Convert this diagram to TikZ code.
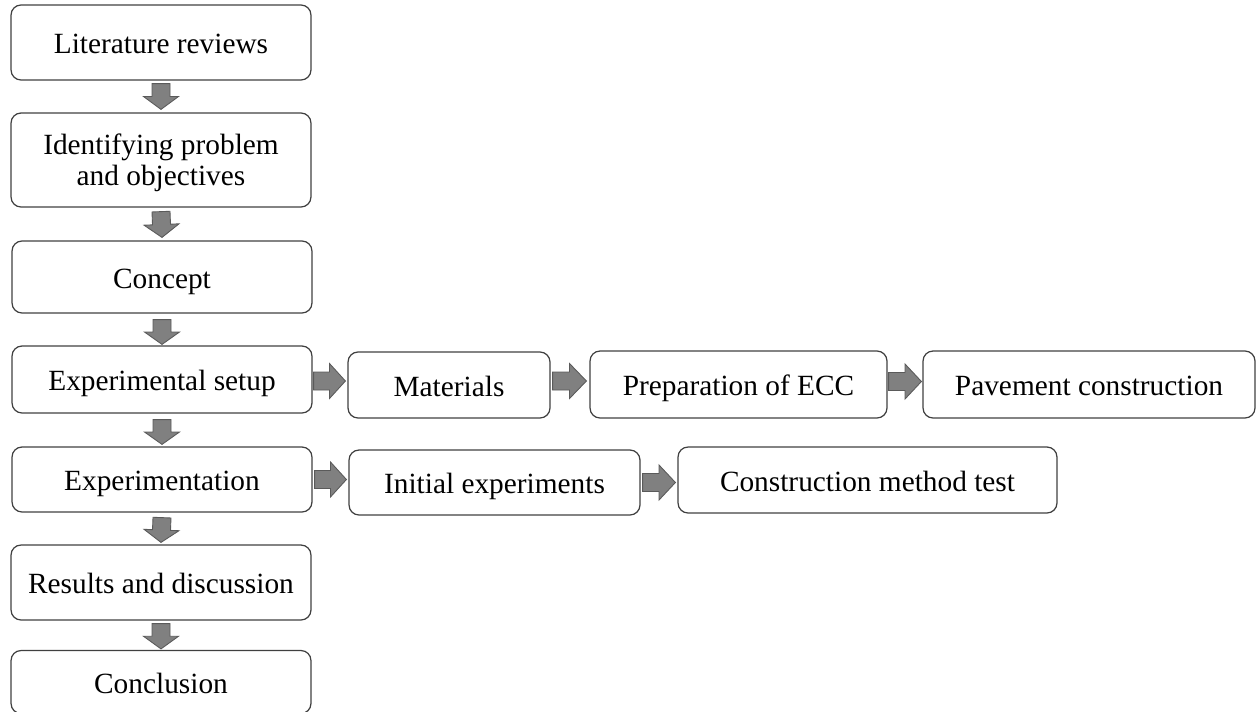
\documentclass[tikz,border=0pt]{standalone}
\usepackage{fontspec}
\setmainfont{Liberation Serif}
\usetikzlibrary{calc}
\definecolor{boxline}{HTML}{404040}
\definecolor{arrfill}{HTML}{808080}
\definecolor{arrline}{HTML}{5A5A5A}

\begin{document}
\begin{tikzpicture}[x=0.02cm, y=-0.02cm,
    stage/.style={draw=boxline, line width=0.7pt, rounded corners=0.2cm,
      align=center, inner sep=0pt, text height=13pt, text depth=0pt,
      font=\fontsize{16.7}{17.6}\selectfont},
    flow/.style={fill=arrfill, draw=arrline, line width=0.5pt,
      to path={($(\tikztostart)!0.18cm!90:(\tikztotarget)$)
        -- ($($(\tikztostart)!0.5!(\tikztotarget)$)!0.18cm!90:(\tikztotarget)$)
        -- ($($(\tikztostart)!0.5!(\tikztotarget)$)!0.35cm!90:(\tikztotarget)$)
        -- (\tikztotarget)
        -- ($($(\tikztostart)!0.5!(\tikztotarget)$)!0.35cm!-90:(\tikztotarget)$)
        -- ($($(\tikztostart)!0.5!(\tikztotarget)$)!0.18cm!-90:(\tikztotarget)$)
        -- ($(\tikztostart)!0.18cm!-90:(\tikztotarget)$) -- cycle}}]
  \useasboundingbox (0,0) rectangle (1257,711);
  % main column
  \node[stage, minimum width=6cm, minimum height=1.5cm] (lit) at (161,42.5)
    {Literature reviews};
  \node[stage, text height=, minimum width=6cm, minimum height=1.88cm] (ident) at (161,160)
    {Identifying problem\\and objectives};
  \node[stage, minimum width=6cm, minimum height=1.44cm] (concept) at (162,277)
    {Concept};
  \node[stage, minimum width=6cm, minimum height=1.34cm] (setup) at (162,379.5)
    {Experimental setup};
  \node[stage, minimum width=6cm, minimum height=1.3cm] (exper) at (162,479.5)
    {Experimentation};
  \node[stage, minimum width=6cm, minimum height=1.5cm] (results) at (161,582.5)
    {Results and discussion};
  \node[stage, minimum width=6cm, minimum height=1.26cm] (concl) at (161,682)
    {Conclusion};
  % side rows
  \node[stage, minimum width=4.04cm, minimum height=1.32cm] (mat) at (449,385)
    {Materials};
  \node[stage, minimum width=5.94cm, minimum height=1.34cm] (ecc) at (738.5,384.5)
    {Preparation of ECC};
  \node[stage, minimum width=6.64cm, minimum height=1.34cm] (pave) at (1089,384.5)
    {Pavement construction};
  \node[stage, minimum width=5.82cm, minimum height=1.3cm] (init) at (494.5,482.5)
    {Initial experiments};
  \node[stage, minimum width=7.58cm, minimum height=1.32cm] (cmt) at (867.5,480)
    {Construction method test};
  % block arrows
  \draw[flow] ($(lit.south)+(0,3)$) to ($(ident.north)+(0,-3)$);
  \draw[flow] ($(ident.south)+(0,4)$) to ($(concept.north)+(0,-3)$);
  \draw[flow] ($(concept.south)+(0,6)$) to ($(setup.north)+(0,-1)$);
  \draw[flow] ($(setup.south)+(0,6)$) to ($(exper.north)+(0,-2)$);
  \draw[flow] ($(exper.south)+(0,5)$) to ($(results.north)+(0,-2)$);
  \draw[flow] ($(results.south)+(0,3)$) to ($(concl.north)+(0,-1)$);
  \draw[flow] ($(setup.east)+(1,1.5)$) to ($(setup.east -| mat.west)+(-2,1.5)$);
  \draw[flow] ($(mat.east)+(2,-4)$) to ($(mat.east -| ecc.west)+(-3,-4)$);
  \draw[flow] ($(ecc.east)+(1,-3)$) to ($(ecc.east -| pave.west)+(-1,-3)$);
  \draw[flow] ($(exper.east)+(2,0)$) to ($(exper.east -| init.west)+(-2,0)$);
  \draw[flow] ($(init.east)+(2,0)$) to ($(init.east -| cmt.west)+(-2,0)$);
\end{tikzpicture}
\end{document}
